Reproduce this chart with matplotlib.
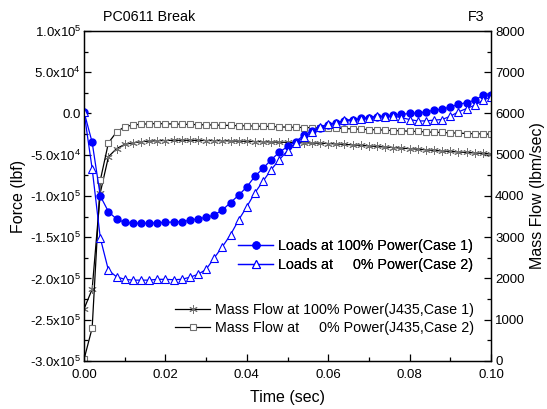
import numpy as np
import matplotlib
matplotlib.use("Agg")
import matplotlib.pyplot as plt
from matplotlib.ticker import MultipleLocator, FixedLocator

plt.rcParams["font.family"] = ["Liberation Sans", "DejaVu Sans"]
plt.rcParams["mathtext.fontset"] = "custom"
plt.rcParams["mathtext.rm"] = "Liberation Sans"

# time grid of the RELAP output (every 2 ms)
time = np.arange(51) * 0.002

# force, kilo-lbf
loads_case1 = [2, -35, -100, -119, -128, -132, -133, -133, -133, -132.5,
               -132, -131.5, -131, -129.5, -127.5, -126, -123, -117, -108, -99,
               -89, -76, -66.5, -56, -47, -40, -34, -26.5, -21, -17,
               -13.5, -11, -9, -7.5, -6, -5, -4, -3, -2, -1,
               0, 0.7, 2, 4, 5.2, 8, 11, 13.3, 16, 22, 23]
loads_case2 = [2, -67, -151, -190, -198, -201, -202, -202, -202, -201,
               -201, -201.5, -201, -198.5, -195, -189, -175, -161.5, -147, -129,
               -113, -96, -82, -68, -56, -45, -35.5, -28.3, -22.6, -16.5,
               -13, -12, -8, -7.5, -7, -5, -3.3, -4, -3.3, -5,
               -7.3, -9, -9, -8, -7.3, -3.3, 2, 6, 10, 16, 20]

# mass flow, lbm/sec
flow_case1 = [1260, 1740, 4080, 4950, 5150, 5250, 5290, 5315, 5330, 5340,
              5345, 5350, 5350, 5350, 5348, 5345, 5342, 5340, 5335, 5330,
              5325, 5320, 5315, 5310, 5305, 5300, 5295, 5290, 5285, 5280,
              5272, 5262, 5250, 5240, 5228, 5215, 5200, 5188, 5175, 5160,
              5148, 5135, 5120, 5105, 5092, 5080, 5068, 5055, 5045, 5032, 5020]
flow_case2 = [40, 800, 4380, 5290, 5550, 5680, 5720, 5740, 5750, 5755,
              5750, 5745, 5740, 5735, 5730, 5725, 5720, 5715, 5710, 5705,
              5700, 5695, 5690, 5685, 5675, 5670, 5665, 5660, 5655, 5650,
              5645, 5640, 5635, 5625, 5620, 5610, 5605, 5595, 5585, 5580,
              5570, 5565, 5555, 5545, 5540, 5530, 5525, 5515, 5510, 5505, 5500]

force_ticks = [1.0e5, 5.0e4, 0, -5.0e4, -1.0e5, -1.5e5, -2.0e5, -2.5e5, -3.0e5]
force_labels = [r"1.0x10$^{5}$", r"5.0x10$^{4}$", "0.0", r"-5.0x10$^{4}$",
                r"-1.0x10$^{5}$", r"-1.5x10$^{5}$", r"-2.0x10$^{5}$",
                r"-2.5x10$^{5}$", r"-3.0x10$^{5}$"]

fig = plt.figure(figsize=(5.47, 4.09), dpi=100)
ax = fig.add_axes([0.1536, 0.1174, 0.744, 0.8068])
ax2 = ax.twinx()
ax.set_zorder(ax2.get_zorder() + 1)
ax.patch.set_visible(False)

lw = 0.9
asterisk = (6, 2, 0)
l1, = ax.plot(time, np.array(loads_case1) * 1e3, color="blue", lw=lw, marker="o",
              ms=5, mfc="blue", mec="blue", label="Loads at 100% Power(Case 1)")
l2, = ax.plot(time, np.array(loads_case2) * 1e3, color="blue", lw=lw, marker="^",
              ms=5.5, mfc="white", mec="blue", mew=0.8,
              label="Loads at     0% Power(Case 2)")
m1, = ax2.plot(time, flow_case1, color="black", lw=lw, marker=asterisk, ms=6,
               mec="#707070", mew=0.7, label="Mass Flow at 100% Power(J435,Case 1)")
m2, = ax2.plot(time, flow_case2, color="black", lw=lw, marker="s", ms=4.5,
               mfc="white", mec="#707070", mew=0.8,
               label="Mass Flow at     0% Power(J435,Case 2)")

ax.set_xlim(0, 0.1)
ax.set_ylim(-3.0e5, 1.0e5)
ax2.set_ylim(0, 8000)

ax.xaxis.set_major_locator(MultipleLocator(0.02))
ax.xaxis.set_minor_locator(MultipleLocator(0.01))
ax.xaxis.set_major_formatter(plt.FuncFormatter(lambda v, p: f"{v:.2f}"))
ax.yaxis.set_major_locator(FixedLocator(force_ticks))
ax.set_yticklabels(force_labels)
ax.yaxis.set_minor_locator(MultipleLocator(2.5e4))
ax2.yaxis.set_major_locator(MultipleLocator(1000))
ax2.yaxis.set_minor_locator(MultipleLocator(500))

for a in (ax, ax2):
    a.tick_params(which="both", direction="in", labelsize=9.5, width=0.9)
    a.tick_params(which="major", length=5)
    a.tick_params(which="minor", length=3)
    for s in a.spines.values():
        s.set_linewidth(0.9)
ax.tick_params(axis="y", right=False, pad=2)
ax.tick_params(axis="x", top=False, pad=6)
ax2.tick_params(axis="y", pad=3)

ax.set_xlabel("Time (sec)", fontsize=11.5, labelpad=6)
ax.set_ylabel("Force (lbf)", fontsize=11.5, labelpad=3)
ax2.set_ylabel("Mass Flow (lbm/sec)", fontsize=11.5, labelpad=4)

fig.text(0.188, 0.958, "PC0611 Break", fontsize=10.3, va="center", ha="left")
fig.text(0.885, 0.958, "F3", fontsize=10.3, va="center", ha="right")

leg_kw = dict(frameon=False, fontsize=10.3, handlelength=2.45, handletextpad=0.3,
              labelspacing=0.3, borderpad=0, borderaxespad=0)
leg1 = ax.legend(handles=[l1, l2], loc="center right",
                 bbox_to_anchor=(0.955, 0.320), **leg_kw)
ax.add_artist(leg1)
ax2.legend(handles=[m1, m2], loc="center right",
           bbox_to_anchor=(0.958, 0.127), **leg_kw)

fig.savefig("out.png", dpi=100)
